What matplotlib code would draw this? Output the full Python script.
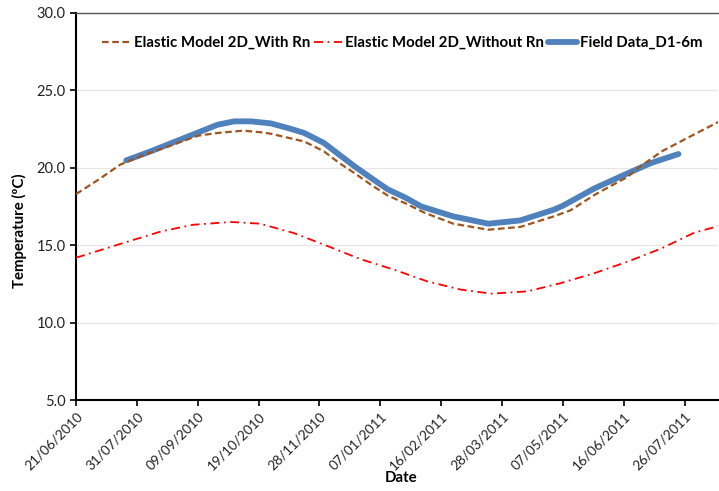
import matplotlib
matplotlib.use("Agg")
import matplotlib.pyplot as plt
import matplotlib.dates as mdates
import pandas as pd

start = pd.Timestamp("2010-06-21")
end = pd.Timestamp("2011-08-17")

# Elastic Model 2D_With Rn (days after 21/06/2010, temperature ºC)
with_rn_days = [0, 15, 29, 45, 60, 80, 93, 110, 123, 128, 150, 163, 173, 183, 194, 205,
                216, 229, 248, 271, 292, 314, 325, 341, 363, 369, 385, 406, 423]
with_rn_vals = [18.3, 19.25, 20.2, 20.85, 21.35, 22.07, 22.25, 22.4, 22.28, 22.2, 21.7, 21.06,
                20.31, 19.66, 18.9, 18.2, 17.73, 17.1, 16.39, 16.0, 16.18, 16.86, 17.25, 18.26,
                19.44, 19.95, 21.06, 22.14, 23.0]

# Elastic Model 2D_Without Rn
without_rn_days = [0, 3, 31, 56, 77, 102, 121, 143, 166, 187, 209, 231, 253, 273, 297,
                   319, 341, 363, 385, 406, 423]
without_rn_vals = [14.2, 14.28, 15.14, 15.89, 16.32, 16.5, 16.39, 15.79, 14.92, 14.1, 13.42,
                   12.66, 12.13, 11.87, 12.02, 12.56, 13.2, 13.95, 14.8, 15.79, 16.26]

# Field Data_D1-6m
field_days = [33, 49, 60, 71, 82, 93, 104, 115, 128, 140, 150, 163, 173, 183, 194, 205,
              216, 227, 248, 271, 292, 314, 320, 341, 363, 378, 396]
field_vals = [20.48, 21.06, 21.49, 21.92, 22.35, 22.78, 23.0, 23.0, 22.87, 22.55, 22.25, 21.6,
              20.85, 20.1, 19.34, 18.6, 18.1, 17.5, 16.86, 16.39, 16.6, 17.29, 17.55, 18.68,
              19.66, 20.31, 20.89]

tick_labels = ["21/06/2010", "31/07/2010", "09/09/2010", "19/10/2010", "28/11/2010",
               "07/01/2011", "16/02/2011", "28/03/2011", "07/05/2011", "16/06/2011",
               "26/07/2011"]

y_ticks = [5, 10, 15, 20, 25, 30]


def to_dates(days):
    return [start + pd.Timedelta(days=d) for d in days]


plt.rcParams['font.family'] = ['Lato', 'DejaVu Sans']

fig = plt.figure(figsize=(7.19, 4.91), dpi=100)
ax = fig.add_axes([76/719, 1 - 400/491, (718 - 76)/719, (400 - 13)/491])

ax.plot(to_dates(with_rn_days), with_rn_vals, color="#A0541E", lw=1.6,
        dashes=(3, 1.6), label="Elastic Model 2D_With Rn", zorder=3)
ax.plot(to_dates(without_rn_days), without_rn_vals, color="#FF0000", lw=1.3,
        dashes=(5, 2.5, 1, 2.5), label="Elastic Model 2D_Without Rn", zorder=3)
ax.plot(to_dates(field_days), field_vals, color="#4F81BD", lw=4.2,
        solid_capstyle="round", solid_joinstyle="round", label="Field Data_D1-6m", zorder=2)

ax.set_xlim(start, end)
ax.set_ylim(5, 30)
ax.set_yticks(y_ticks)
ax.set_yticklabels(["%.1f" % v for v in y_ticks], fontsize=10.5)
ax.set_xticks([mdates.date2num(pd.to_datetime(t, dayfirst=True)) for t in tick_labels])
ax.set_xticklabels(tick_labels, rotation=45, ha="right", rotation_mode="anchor", fontsize=9.8)

ax.grid(axis="y", color="#E6E6E6", lw=0.9)
ax.set_axisbelow(True)
ax.tick_params(axis="both", direction="out", length=4, width=1.2, colors="black",
               labelcolor="#222222")

for s in ["left", "bottom"]:
    ax.spines[s].set_color("black")
    ax.spines[s].set_linewidth(1.5)
ax.spines["top"].set_color("#555555")
ax.spines["top"].set_linewidth(1.0)
ax.spines["right"].set_visible(False)

ax.set_ylabel("Temperature (ºC)", fontsize=10.8, fontweight="bold")
ax.yaxis.set_label_coords(-0.0763, 0.437)
ax.set_xlabel("Date", fontsize=10.8, fontweight="bold")
ax.xaxis.set_label_coords(0.506, -0.183)

ax.legend(loc="center", bbox_to_anchor=(0.508, 0.922), ncol=3, frameon=False,
          handlelength=1.9, handletextpad=0.2, columnspacing=0.25,
          prop={"weight": "bold", "size": 10.8})

fig.savefig("out.png", dpi=100)
